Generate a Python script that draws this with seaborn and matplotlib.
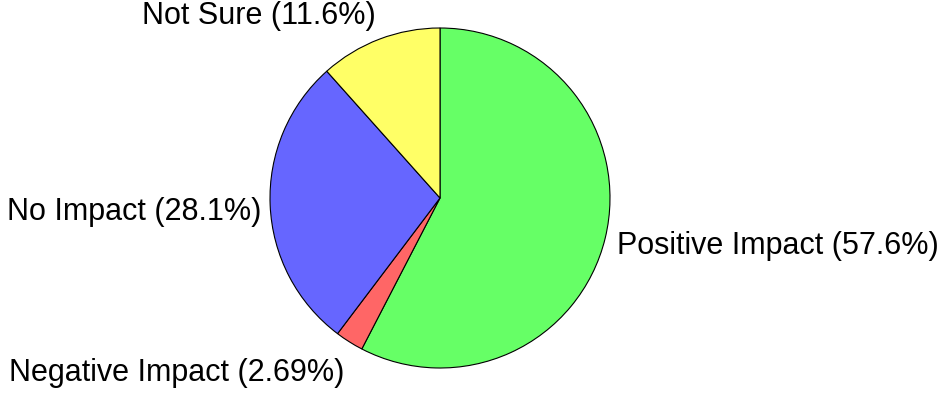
import matplotlib
matplotlib.use("Agg")
import matplotlib.pyplot as plt
import seaborn as sns

labels = ["Positive Impact", "Negative Impact", "No Impact", "Not Sure"]
shares = [57.6, 2.69, 28.1, 11.6]
colors = ["#66ff66", "#ff6666", "#6666ff", "#ffff66"]
pct_text = ["57.6%", "2.69%", "28.1%", "11.6%"]

sns.set_theme(style="white")
plt.rcParams["font.family"] = ["Liberation Sans", "DejaVu Sans"]

fig = plt.figure(figsize=(9.45, 3.93), dpi=100)
# square axes holding the pie: centre ~(440,198) px, radius ~170 px
ax = fig.add_axes([270 / 945, 25 / 393, 340 / 945, 340 / 393])
wedges, _ = ax.pie(
    shares,
    colors=colors,
    startangle=90,
    counterclock=False,
    wedgeprops={"edgecolor": "black", "linewidth": 0.8},
)
ax.set_xlim(-1, 1)
ax.set_ylim(-1, 1)
ax.set_aspect("equal")
ax.axis("off")

# label positions (axes data units), ha
label_pos = [(1.04, -0.28, "left"), (-0.56, -1.03, "right"),
             (-1.05, -0.08, "right"), (-0.38, 1.07, "right")]
for name, pct, (x, y, ha) in zip(labels, pct_text, label_pos):
    ax.text(x, y, f"{name} ({pct})", ha=ha, va="center", fontsize=22,
            color="black", clip_on=False)

fig.savefig("out.png", dpi=100)
